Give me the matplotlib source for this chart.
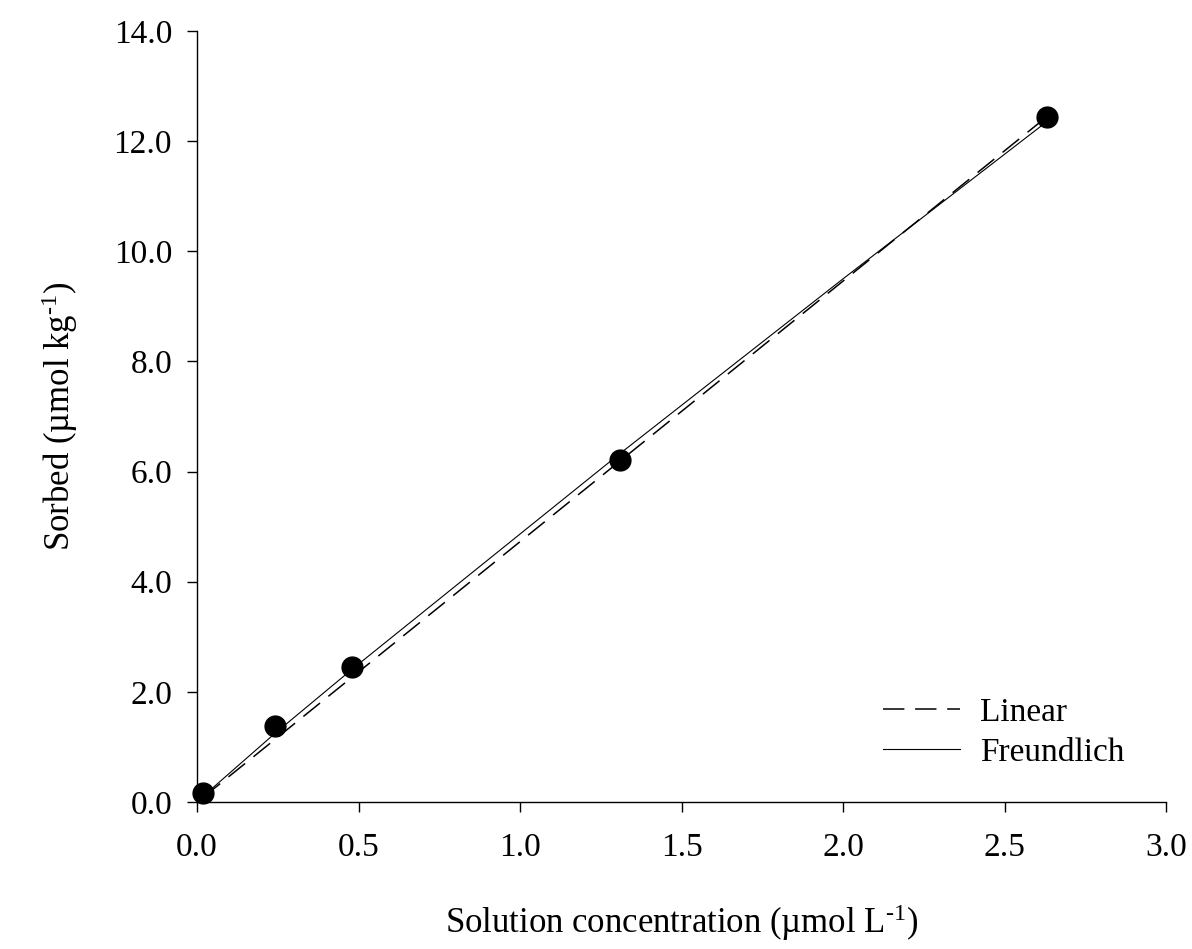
"""Sorption isotherm: measured points with linear and Freundlich fits."""

import matplotlib
matplotlib.use("Agg")
import matplotlib.pyplot as plt

# ---------------------------------------------------------------------------
# Data
# ---------------------------------------------------------------------------
conc_obs   = [0.02, 0.24, 0.48, 1.31, 2.63]     # µmol L-1
sorbed_obs = [0.16, 1.38, 2.46, 6.21, 12.44]    # µmol kg-1

linear_x = [0.02, 2.63]
linear_y = [0.09, 12.44]

freund_x = [0.02, 0.24, 0.48, 1.31, 2.00, 2.63]
freund_y = [0.11, 1.24, 2.41, 6.33, 9.50, 12.35]

X_TICKS = [0.0, 0.5, 1.0, 1.5, 2.0, 2.5, 3.0]
Y_TICKS = [0.0, 2.0, 4.0, 6.0, 8.0, 10.0, 12.0, 14.0]

# ---------------------------------------------------------------------------
# Style
# ---------------------------------------------------------------------------
plt.rcParams["font.family"] = ["Liberation Serif", "DejaVu Serif"]
plt.rcParams["mathtext.fontset"] = "custom"
plt.rcParams["mathtext.rm"] = "Liberation Serif"
plt.rcParams["mathtext.it"] = "Liberation Serif:italic"
FS = 24

fig = plt.figure(figsize=(11.92, 9.49), dpi=100)
ax = fig.add_axes([0.1653, 0.1549, 0.8129, 0.8124])

ax.plot(linear_x, linear_y, color="black", lw=1.1, dashes=(14, 7),
        label="Linear")
ax.plot(freund_x, freund_y, color="black", lw=0.8, label="Freundlich")
ax.plot(conc_obs, sorbed_obs, "o", color="black", ms=15, clip_on=False,
        zorder=5)

ax.set_xlim(0, 3.0)
ax.set_ylim(0, 14.0)
ax.set_xticks(X_TICKS)
ax.set_yticks(Y_TICKS)
ax.set_xticklabels([f"{t:.1f}" for t in X_TICKS])
ax.set_yticklabels([f"{t:.1f}" for t in Y_TICKS])

for side in ("top", "right"):
    ax.spines[side].set_visible(False)
for side in ("left", "bottom"):
    ax.spines[side].set_linewidth(1.0)

ax.tick_params(axis="both", direction="out", length=7, width=1.0,
               labelsize=FS)
ax.tick_params(axis="x", pad=15)
ax.tick_params(axis="y", pad=11)

ax.set_xlabel("Solution concentration (µmol L$^{\\mathrm{‐1}}$)",
              fontsize=25, labelpad=28)
ax.set_ylabel("Sorbed (µmol kg$^{\\mathrm{‐1}}$)", fontsize=25,
              labelpad=24)

ax.legend(loc="lower right", bbox_to_anchor=(0.988, 0.005), frameon=False,
          fontsize=FS, handlelength=2.3, handletextpad=0.6,
          labelspacing=0.3)

fig.savefig("out.png", dpi=100)
